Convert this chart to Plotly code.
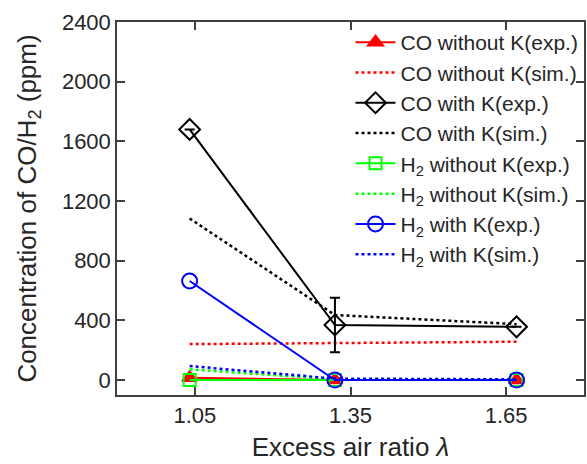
import plotly.graph_objects as go

lam = [1.04, 1.32, 1.67]
co_noK_exp = [15, 0, 0]
co_noK_sim = [241, 246, 257]
co_K_exp = [1680, 369, 357]
co_K_exp_err = [0, 183, 0]
co_K_sim = [1083, 436, 375]
h2_noK_exp = [0, 0, 0]
h2_noK_sim = [72, 5, 5]
h2_K_exp = [664, 0, 0]
h2_K_sim = [94, 10, 5]

xticks = [1.05, 1.35, 1.65]
xticktext = ["1.05", "1.35", "1.65"]
yticks = [0, 400, 800, 1200, 1600, 2000, 2400]

FONT = "Liberation Sans, Arial, sans-serif"
TXT = "#262626"

fig = go.Figure()

def exp_trace(y, color, symbol, name, size, err=None, filled=False):
    return go.Scatter(
        x=lam, y=y, name=name, mode="lines+markers",
        line=dict(color=color, width=2),
        marker=dict(symbol=symbol, size=size, color=color if filled else "rgba(0,0,0,0)",
                    line=dict(color=color, width=2)),
        error_y=dict(type="data", array=err, color=color, thickness=2, width=5, visible=err is not None),
    )

def sim_trace(y, color, name):
    return go.Scatter(
        x=lam, y=y, name=name, mode="lines",
        line=dict(color=color, width=2.5, dash="dot"),
    )

fig.add_trace(exp_trace(co_noK_exp, "#ff0000", "triangle-up", "CO without K(exp.)", 13, filled=True))
fig.add_trace(sim_trace(co_noK_sim, "#ff0000", "CO without K(sim.)"))
fig.add_trace(exp_trace(co_K_exp, "#000000", "diamond", "CO with K(exp.)", 16, err=co_K_exp_err))
fig.add_trace(sim_trace(co_K_sim, "#000000", "CO with K(sim.)"))
fig.add_trace(exp_trace(h2_noK_exp, "#00ff00", "square", "H<sub>2</sub> without K(exp.)", 12))
fig.add_trace(sim_trace(h2_noK_sim, "#00ff00", "H<sub>2</sub> without K(sim.)"))
fig.add_trace(exp_trace(h2_K_exp, "#0000ff", "circle", "H<sub>2</sub> with K(exp.)", 15))
fig.add_trace(sim_trace(h2_K_sim, "#0000ff", "H<sub>2</sub> with K(sim.)"))

axis_common = dict(
    showline=True, linecolor="#404040", linewidth=1.5, mirror="ticks",
    ticks="inside", ticklen=8, tickwidth=1.5, tickcolor="#404040", showgrid=False, zeroline=False,
    tickfont=dict(family=FONT, size=22, color=TXT),
)

fig.update_layout(
    width=587, height=464,
    margin=dict(l=117, r=1, t=22, b=69),
    paper_bgcolor="white", plot_bgcolor="white",
    font=dict(family=FONT, color=TXT),
    xaxis=dict(range=[0.9, 1.8], tickvals=xticks, ticktext=xticktext,
               title=dict(text="Excess air ratio <i>λ</i>", font=dict(size=26, color=TXT), standoff=11),
               **axis_common),
    yaxis=dict(range=[-100, 2400], tickvals=yticks,
               title=dict(text="Concentration of CO/H<sub>2</sub> (ppm)", font=dict(size=26, color=TXT), standoff=18),
               **axis_common),
    legend=dict(x=0.50, y=1.0, xanchor="left", yanchor="top", bgcolor="rgba(0,0,0,0)",
                font=dict(size=21, color=TXT), tracegroupgap=0, itemwidth=40),
    showlegend=True,
)

fig.write_html("out.html", config={"displayModeBar": False},
               post_script="document.body.style.margin='0';document.body.style.overflow='hidden';")
